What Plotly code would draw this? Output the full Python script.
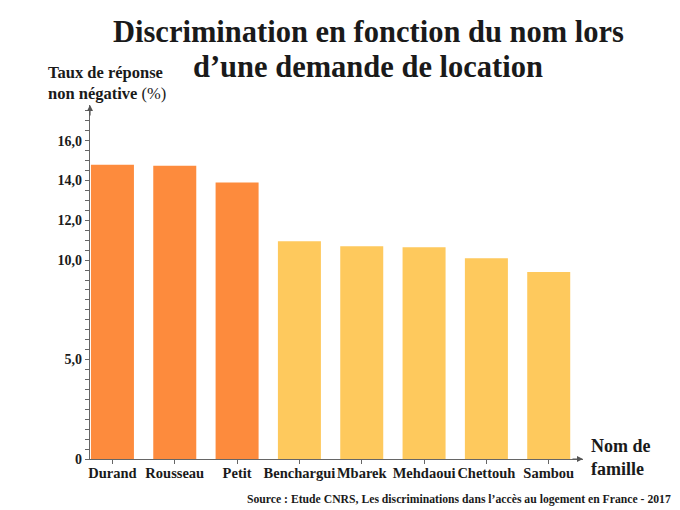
import plotly.graph_objects as go

# valeurs (taux de réponse non négative, %)
noms = ["Durand", "Rousseau", "Petit", "Benchargui", "Mbarek", "Mehdaoui", "Chettouh", "Sambou"]
taux = [14.8, 14.75, 13.9, 10.95, 10.7, 10.65, 10.1, 9.4]
groupes = ["fr", "fr", "fr", "mag", "mag", "mag", "mag", "afr"]

y_ticks = [0, 5, 10, 12, 14, 16]
y_labels = ["0", "5,0", "10,0", "12,0", "14,0", "16,0"]

titre = ["Discrimination en fonction du nom lors", "d’une demande de location"]

couleurs = {"fr": "#FD8B3D", "mag": "#FEC95D", "afr": "#FEC95D"}
serif = "Liberation Serif"
gris = "#666666"
noir = "#1a1a1a"

fig = go.Figure(go.Bar(
    x=noms,
    y=taux,
    marker={'color': [couleurs[g] for g in groupes], 'line': {'width': 0}},
    width=0.69,
    hoverinfo="x+y",
))

# la page ajoute 8 px de marge : figure un peu plus petite que la fenêtre
fig.update_layout(
    width=672,
    height=502,
    margin={'l': 82, 'r': 97, 't': 97, 'b': 51, 'autoexpand': False},
    plot_bgcolor="white",
    paper_bgcolor="white",
    showlegend=False,
    font={'family': serif, 'color': "#222222"},
)

fig.update_xaxes(
    range=[-0.36, 7.55],
    automargin=False,
    tickangle=0,
    ticklabelstandoff=-4,
    showline=True, linecolor=gris, linewidth=1.2,
    ticks="outside", ticklen=4, tickcolor=gris,
    tickvals=noms, ticktext=["<b>%s</b>" % n for n in noms],
    tickfont={'family': serif, 'size': 14.5, 'color': noir},
    showgrid=False, zeroline=False,
)

fig.update_yaxes(
    range=[0, 17.8],
    automargin=False,
    showline=True, linecolor=gris, linewidth=1.2,
    tickmode="array", tickvals=y_ticks, ticktext=["<b>%s</b>" % t for t in y_labels],
    ticks="outside", ticklen=4, tickcolor=gris,
    minor={'tickmode': "linear", 'tick0': 0, 'dtick': 0.5,
           'ticks': "outside", 'ticklen': 4, 'tickcolor': gris, 'showgrid': False},
    tickfont={'family': serif, 'size': 14, 'color': noir},
    showgrid=False, zeroline=False,
)

# flèches au bout des axes
fig.add_annotation(xref="paper", yref="paper", x=0, y=1, ax=0, ay=12,
                   showarrow=True, arrowhead=2, arrowsize=1, arrowwidth=1.2,
                   arrowcolor="#555555", text="")
fig.add_annotation(xref="paper", yref="paper", x=1, y=0, ax=-12, ay=0,
                   showarrow=True, arrowhead=2, arrowsize=1, arrowwidth=1.2,
                   arrowcolor="#555555", text="")

for ligne, yy in zip(titre, [1.205, 1.106]):
    fig.add_annotation(xref="paper", yref="paper", x=0.564, y=yy,
                       xanchor="center", yanchor="middle", showarrow=False,
                       text="<b>%s</b>" % ligne,
                       font={'family': serif, 'size': 30.5, 'color': noir})

fig.add_annotation(xref="paper", yref="paper", x=-0.09, y=1.125,
                   xanchor="left", yanchor="top", align="left", showarrow=False,
                   text="<b>Taux de réponse<br>non négative</b> (%)",
                   font={'family': serif, 'size': 16.5, 'color': noir})
fig.add_annotation(xref="paper", yref="paper", x=1.012, y=0.003,
                   xanchor="left", yanchor="middle", align="left", showarrow=False,
                   text="<b>Nom de<br>famille</b>",
                   font={'family': serif, 'size': 18, 'color': noir})
fig.add_annotation(xref="paper", yref="paper", x=1.183, y=-0.1155,
                   xanchor="right", yanchor="middle", showarrow=False,
                   text="<b>Source : Etude CNRS, Les discriminations dans l’accès au logement en France - 2017</b>",
                   font={'family': serif, 'size': 11.7, 'color': noir})

fig.write_html("out.html")
